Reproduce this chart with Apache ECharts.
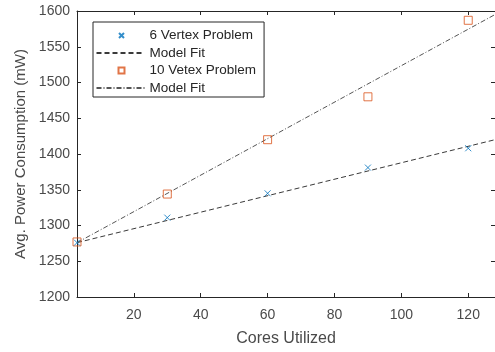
<!DOCTYPE html>
<html>
<head>
<meta charset="utf-8">
<script src="https://cdn.jsdelivr.net/npm/echarts@6/dist/echarts.min.js"></script>
<style>
  html, body { margin: 0; padding: 0; background: #fff; }
  #chart { width: 495px; height: 352px; }
</style>
</head>
<body>
<div id="chart"></div>
<script>
// data
const cores = [3, 30, 60, 90, 120];
const sixVertex = [1276, 1311, 1345, 1381, 1408];
const tenVertex = [1277, 1344, 1420, 1480, 1587];
const fitSixX = [3, 128];
const fitSixY = [1276, 1420];
const fitTenX = [3, 128];
const fitTenY = [1276, 1595];
const xTicks = [20, 40, 60, 80, 100, 120];

const axisColor = '#262626';
const textColor = '#4a4a4a';
const font = 'Liberation Sans, Arial, sans-serif';
const crossPath = 'path://M0,0L10,10M10,0L0,10';
// legend icons: marker in the middle of a 48x14 box (corner points keep the box)
const crossIcon = 'path://M0,0L0,0M48,14L48,14M22.5,4.5L27.5,9.5M27.5,4.5L22.5,9.5';
const squareIcon = 'path://M0,0L0,0M48,14L48,14M22,4H28V10H22Z';
const hideMarker = { color: 'rgba(0,0,0,0)', borderWidth: 0, opacity: 0 };

const zip = (xs, ys) => xs.map((x, i) => [x, ys[i]]);

const chart = echarts.init(document.getElementById('chart'), null, { renderer: 'canvas' });

const xBase = {
  type: 'value', min: 3, max: 128,
  axisLine: { show: true, lineStyle: { color: axisColor, width: 1 } },
  axisTick: { show: true, inside: true, length: 4, customValues: xTicks, lineStyle: { color: axisColor } },
  splitLine: { show: false }
};
const yBase = {
  type: 'value', min: 1200, max: 1600, interval: 50,
  axisLine: { show: true, lineStyle: { color: axisColor, width: 1 } },
  axisTick: { show: true, inside: true, length: 4, lineStyle: { color: axisColor } },
  splitLine: { show: false }
};

const option = {
  animation: false,
  backgroundColor: '#fff',
  textStyle: { fontFamily: font },
  grid: { left: 77, right: 0, top: 11, bottom: 51, containLabel: false },
  legend: {
    orient: 'vertical',
    left: 93, top: 22,
    itemWidth: 48, itemHeight: 14, itemGap: 1, itemTextGap: 4,
    padding: [4, 8, 2, 1],
    borderColor: axisColor, borderWidth: 1,
    backgroundColor: '#fff',
    textStyle: { color: axisColor, fontSize: 13.5, lineHeight: 14, fontFamily: font },
    data: [
      { name: '6 Vertex Problem', icon: crossIcon },
      { name: 'Model Fit', itemStyle: hideMarker },
      { name: '10 Vetex Problem', icon: squareIcon },
      { name: 'Model Fit ', itemStyle: hideMarker }
    ]
  },
  xAxis: [
    Object.assign({}, xBase, {
      position: 'bottom',
      name: 'Cores Utilized', nameLocation: 'middle', nameGap: 34,
      nameTextStyle: { color: textColor, fontSize: 16, fontFamily: font },
      axisLabel: {
        show: true, customValues: xTicks, color: textColor, fontSize: 14, margin: 11
      }
    }),
    Object.assign({}, xBase, { position: 'top', axisLabel: { show: false } })
  ],
  yAxis: [
    Object.assign({}, yBase, {
      position: 'left',
      name: 'Avg. Power Consumption (mW)', nameLocation: 'middle', nameGap: 36,
      nameTextStyle: { color: textColor, fontSize: 15, fontFamily: font },
      axisLabel: {
        show: true, color: textColor, fontSize: 14, margin: 7,
        formatter: v => String(v)
      }
    }),
    Object.assign({}, yBase, { position: 'right', axisLabel: { show: false } })
  ],
  series: [
    {
      name: '6 Vertex Problem', type: 'scatter', symbol: crossPath, symbolSize: 6,
      itemStyle: { color: 'none', borderColor: '#0072BD', borderWidth: 1 },
      data: zip(cores, sixVertex), z: 5
    },
    {
      name: 'Model Fit', type: 'line', symbol: 'none',
      lineStyle: { color: '#3a3a3a', width: 1, type: [5, 3] },
      itemStyle: { color: '#3a3a3a' },
      data: zip(fitSixX, fitSixY)
    },
    {
      name: '10 Vetex Problem', type: 'scatter', symbol: 'rect', symbolSize: 8,
      itemStyle: { color: 'none', borderColor: '#D95319', borderWidth: 1 },
      data: zip(cores, tenVertex), z: 4
    },
    {
      name: 'Model Fit ', type: 'line', symbol: 'none',
      lineStyle: { color: '#555', width: 1, type: [5, 2, 1, 2] },
      itemStyle: { color: '#555' },
      data: zip(fitTenX, fitTenY)
    }
  ]
};

chart.setOption(option);
</script>
</body>
</html>
